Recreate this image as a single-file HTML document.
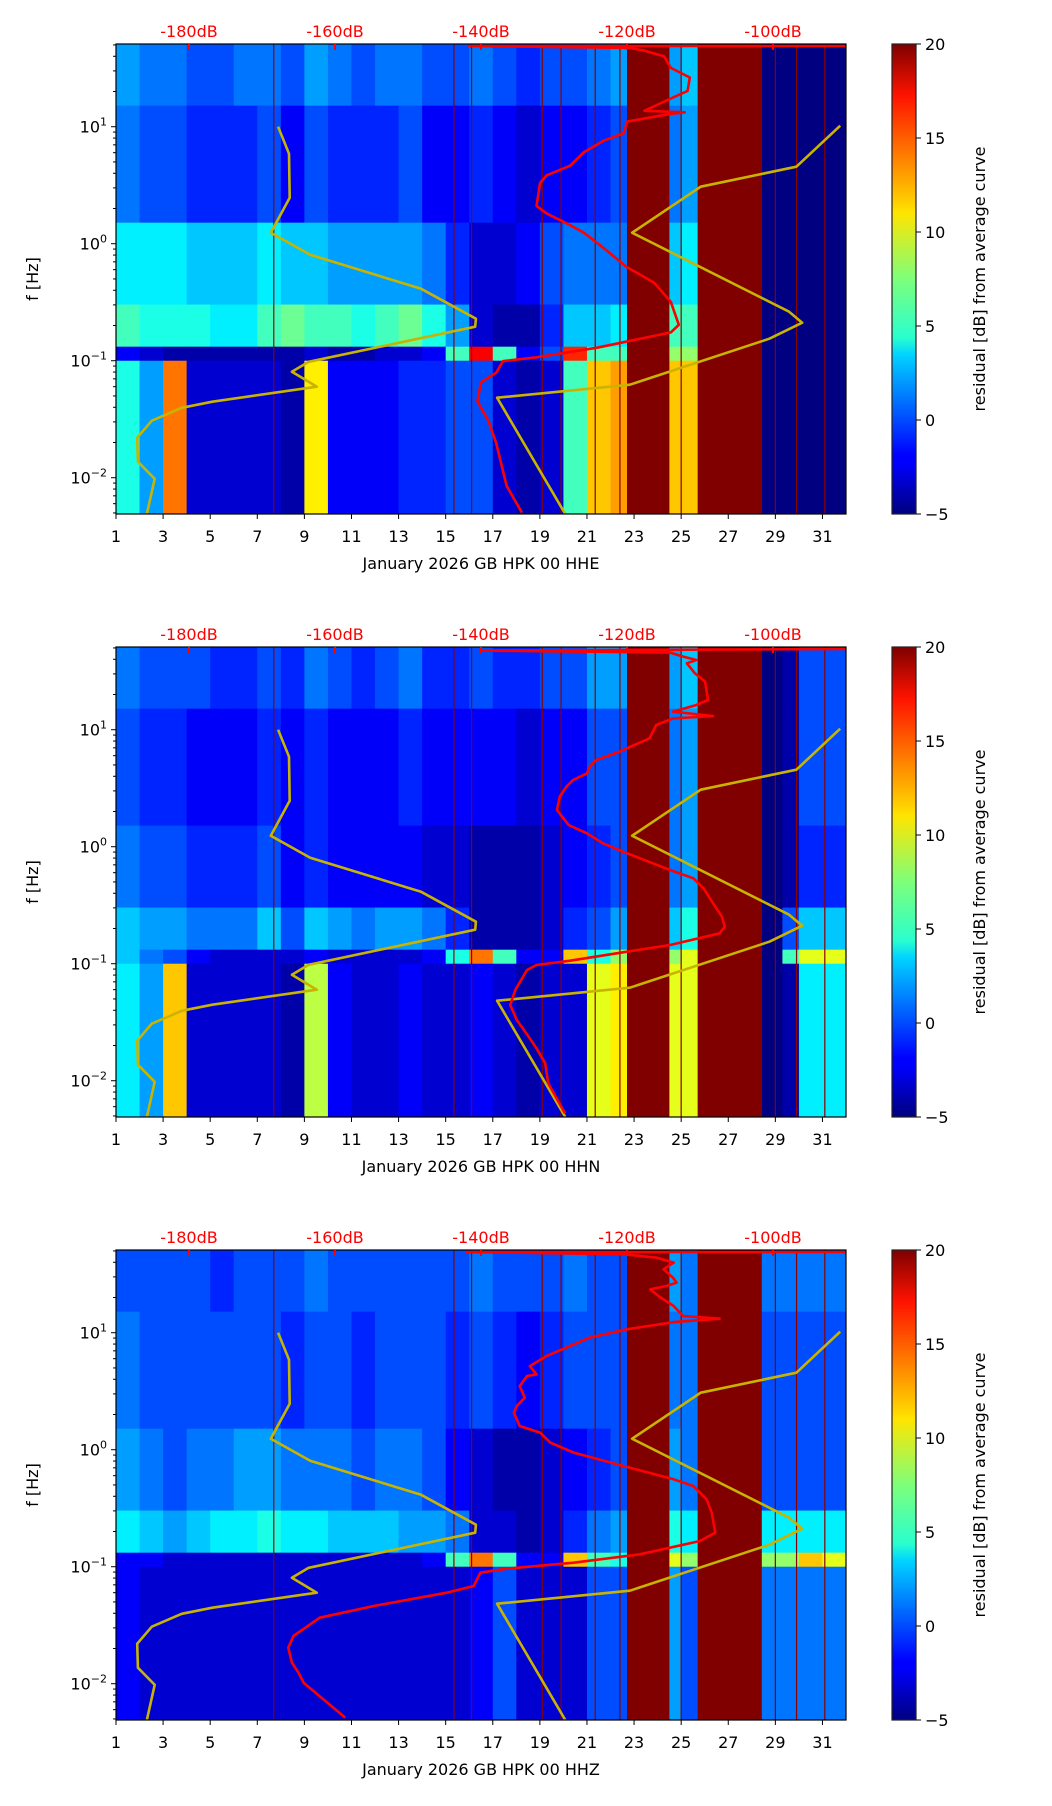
<!DOCTYPE html>
<html><head><meta charset="utf-8">
<style>
html,body{margin:0;padding:0;background:#fff;}
svg{display:block;font-family:"DejaVu Sans","Liberation Sans",sans-serif;}
</style></head>
<body>
<svg id="chart" width="1052" height="1806" viewBox="0 0 1052 1806" xmlns="http://www.w3.org/2000/svg">
<defs>
<linearGradient id="jetgrad" x1="0" y1="1" x2="0" y2="0">
<stop offset="0" stop-color="#00007f"/><stop offset="0.11" stop-color="#0000ff"/>
<stop offset="0.125" stop-color="#0000ff"/><stop offset="0.34" stop-color="#00d4ff"/>
<stop offset="0.375" stop-color="#29ffce"/><stop offset="0.5" stop-color="#7dff7a"/>
<stop offset="0.64" stop-color="#ffe500"/><stop offset="0.66" stop-color="#ffd200"/>
<stop offset="0.89" stop-color="#ff1300"/><stop offset="1" stop-color="#7f0000"/>
</linearGradient>
</defs>
</svg>
<script>
// ---- data ----
const days = [1,3,5,7,9,11,13,15,17,19,21,23,25,27,29,31];
const dbTicks = [-180,-160,-140,-120,-100];
const cbTicks = [-5,0,5,10,15,20];
const bandEdges = [1.707,1.18,0.18,-0.52,-0.88,-1.0,-2.31];
const channels = ["HHE","HHN","HHZ"];

const p1B0=[2,1,1,0,0,1,1,0,2,1,0,1,1,0,0,1,0,-1,0,0,1,2,20,2,3,20,20,20,-5,-5,-5];
const p1B1=[1,0,0,-1,-1,-1,0,-2,0,-1,-1,-1,0,-2,-2,-1,-2,-3,-2,-2,-1,0,20,1,2,20,20,20,-5,-5,-5];
const p1B2=[4,4,4,3,3,3,4,3,3,2,2,2,2,1,-1,-3,-3,-2,0,1,1,1,20,3,4,20,20,20,-5,-5,-5];
const p1B3=[6,5,5,5,4,4,6,7,6,6,5,6,7,5,2,-3,-4,-4,-1,3,3,4,20,6,6,20,20,20,-5,-5,-5];
const p1B4=[-2,-3,-4,-4,-4,-4,-4,-4,-3,-4,-4,-3,-3,-2,6,17,6,-2,0,16,6,6,20,8,8,20,20,20,-5,-5,-5];
const p1B5=[5,2,14,-3,-3,-3,-3,-4,11,-2,-2,-2,-1,-1,0,0,-3,-4,-3,6,12,13,20,12,12,20,20,20,-5,-5,-5];

const p2B0=[1,0,0,0,-1,-1,0,-1,1,0,-1,0,1,-1,-1,0,-1,-1,0,0,2,2,20,2,3,20,20,-4,-4,0,0];
const p2B1=[0,-1,-1,-2,-2,-2,-1,-2,-1,-2,-2,-2,-1,-2,-2,-2,-2,-3,-2,-2,0,0,20,1,2,20,20,-4,-4,0,0];
const p2B2=[1,0,0,-1,-1,-1,0,-2,-1,-2,-2,-2,-2,-3,-3,-4,-4,-4,-3,-2,-1,0,20,1,2,20,20,-4,-4,-1,-1];
const p2B3=[3,2,2,1,1,1,3,0,3,2,1,2,2,1,-1,-4,-4,-4,-3,-1,0,2,20,3,5,20,20,-4,0,3,3];
const p2B4=[3,1,0,-2,-3,-3,-3,-3,-2,-3,-3,-3,-3,-2,5,14,6,-2,-2,12,5,8,20,8,10,20,20,-4,6,10,10];
const p2B5=[4,2,12,-3,-3,-3,-3,-4,9,-2,-3,-3,-2,-3,-3,-2,-3,-4,-3,-3,10,11,20,10,10,20,20,-4,-4,4,4];

const p3B0=[0,0,0,0,-1,0,0,0,1,0,0,0,0,0,0,1,0,0,0,1,0,0,20,2,1,20,20,1,1,1,1];
const p3B1=[1,0,0,0,0,0,0,-1,0,0,-1,0,0,0,-1,0,-1,-2,-1,0,0,0,20,1,1,20,20,0,0,0,0];
const p3B2=[2,1,0,1,1,2,2,1,1,1,0,1,1,0,-2,-3,-4,-4,-3,-2,-1,0,20,2,1,20,20,0,0,0,0];
const p3B3=[4,3,2,3,4,4,5,4,4,3,3,3,2,2,1,-3,-3,-4,-3,-1,1,2,20,5,4,20,20,4,4,4,4];
const p3B4=[-2,-2,-3,-3,-3,-3,-3,-3,-3,-3,-3,-3,-3,-2,6,14,6,-2,-2,12,6,5,20,10,8,20,20,8,8,12,10];
const p3B5=[-2,-3,-3,-3,-3,-3,-3,-3,-3,-3,-3,-3,-3,-3,-3,-2,0,-3,-3,-3,0,0,20,2,0,20,20,1,1,1,1];

const satStart=[22.7,25.7];
const satEnd=[24.5,28.4];
const deadStart=[28.4,28.4,null];
const deadEnd=[32,29.3,null];
const gapLines=[7.7,15.35,16.1,19.1,19.9,21.35,22.4,25.0,28.4,29.0,29.9,31.1];

const nlnmDB=[-185.8,-184.7,-187,-187.1,-185.1,-181,-176.8,-162.5,-165.9,-163.6,-140.8,-140.7,-148.2,-163.4,-168.8,-166.2,-166.3,-167.8];
const nlnmLogF=[-2.316,-2.009,-1.863,-1.658,-1.513,-1.402,-1.35,-1.222,-1.094,-1.009,-0.709,-0.641,-0.385,-0.094,0.094,0.393,0.769,1.0];
const nhnmDB=[-90.8,-96.8,-109.9,-119.3,-97.8,-96,-100.5,-119.6,-137.8,-128.4];
const nhnmLogF=[1.009,0.658,0.487,0.094,-0.581,-0.675,-0.812,-1.205,-1.316,-2.316];

const red1DB=[-134.4,-136.5,-137.9,-139.0,-140.5,-140.0,-137.9,-137.0,-132.4,-124.1,-114.0,-112.9,-114.0,-116.3,-120.0,-123.2,-125.9,-127.8,-131.0,-132.4,-131.9,-131.0,-127.8,-125.9,-123.2,-120.4,-120.0,-114.0,-112.1,-117.6,-114.0,-111.7,-111.4,-114.0,-114.9,-117.6,-119.5,-141.6,-90];
const red1LogF=[-2.298,-2.069,-1.708,-1.512,-1.348,-1.184,-1.102,-1.004,-0.971,-0.889,-0.758,-0.693,-0.496,-0.332,-0.201,-0.037,0.094,0.159,0.258,0.323,0.52,0.585,0.667,0.782,0.88,0.946,1.044,1.11,1.123,1.136,1.241,1.306,1.421,1.503,1.601,1.65,1.673,1.69,1.69];
const red2DB=[-128.5,-130.8,-131.2,-132.4,-133.8,-135.1,-136.0,-135.3,-133.7,-132.4,-127.8,-120.0,-114.1,-107.3,-106.6,-107.0,-108.2,-109.5,-110.9,-114.1,-120.0,-123.3,-125.5,-128.0,-129.6,-129.2,-128.3,-127.4,-125.5,-125.1,-124.2,-121.0,-116.9,-116.0,-113.7,-108.2,-113.7,-110.5,-108.9,-109.3,-110.7,-111.8,-110.5,-112.3,-114.1,-139.9,-90];
const red2LogF=[-2.279,-2.022,-1.851,-1.723,-1.595,-1.481,-1.353,-1.224,-1.054,-1.011,-0.974,-0.897,-0.84,-0.74,-0.683,-0.598,-0.484,-0.356,-0.27,-0.199,-0.056,0.029,0.115,0.186,0.314,0.428,0.513,0.57,0.627,0.684,0.741,0.813,0.927,1.04,1.097,1.117,1.154,1.211,1.254,1.411,1.482,1.568,1.596,1.625,1.659,1.676,1.69];
const red3DB=[-158.6,-164.3,-165.0,-165.9,-166.4,-165.7,-162.1,-154.7,-144.7,-141.0,-140.1,-136.5,-127.3,-118.2,-110.0,-107.9,-108.4,-109.1,-110.9,-113.6,-120.5,-127.3,-130.5,-131.9,-134.7,-135.5,-135.1,-134.0,-134.7,-133.7,-132.4,-133.3,-131.0,-125.1,-120.0,-113.6,-107.3,-112.3,-113.6,-115.7,-116.8,-114.6,-113.2,-113.7,-115.0,-113.6,-115.9,-120.5,-142,-90];
const red3LogF=[-2.29,-1.991,-1.906,-1.82,-1.692,-1.592,-1.436,-1.336,-1.222,-1.165,-1.051,-1.017,-0.966,-0.894,-0.78,-0.709,-0.538,-0.424,-0.31,-0.253,-0.139,-0.025,0.06,0.146,0.203,0.316,0.374,0.445,0.544,0.63,0.644,0.715,0.801,0.958,1.029,1.091,1.12,1.143,1.228,1.314,1.371,1.399,1.428,1.47,1.542,1.599,1.641,1.67,1.69,1.69];

// ---- layout ----
const NS="http://www.w3.org/2000/svg";
const svg=document.getElementById('chart');
const L=116,R=846,H=470,TOPS=[44,647,1250];
const LOGTOP=1.707,DEC=117;
const xDay=d=>L+(d-1)*(R-L)/31;
const xDB=db=>L+(db+190)*(R-L)/100;
const yF=(lf,T)=>T+(LOGTOP-lf)*DEC;
function jet(v){
  let t=Math.max(0,Math.min(1,(v+5)/25));
  const c=(x)=>Math.max(0,Math.min(1,x));
  let r=c(Math.min(4*t-1.5,-4*t+4.5)),g=c(Math.min(4*t-0.5,-4*t+3.5)),b=c(Math.min(4*t+0.5,-4*t+2.5));
  return `rgb(${Math.round(r*255)},${Math.round(g*255)},${Math.round(b*255)})`;
}
function mk(tag,attrs,parent){const e=document.createElementNS(NS,tag);for(const k in attrs)e.setAttribute(k,attrs[k]);(parent||svg).appendChild(e);return e;}

const bands=[[p1B0,p1B1,p1B2,p1B3,p1B4,p1B5],[p2B0,p2B1,p2B2,p2B3,p2B4,p2B5],[p3B0,p3B1,p3B2,p3B3,p3B4,p3B5]];
const reds=[[red1DB,red1LogF],[red2DB,red2LogF],[red3DB,red3LogF]];

TOPS.forEach((T,pi)=>{
  const g=mk('g',{});
  
  
  const cp=mk('clipPath',{id:'clip'+pi},g);
  mk('rect',{x:L,y:T,width:R-L,height:H},cp);
  const hm=mk('g',{'clip-path':`url(#clip${pi})`},g);
  
  
  bands[pi].forEach((arr,bi)=>{
    arr.forEach((v,di)=>{
      const y0=yF(bandEdges[bi],T),y1=yF(bandEdges[bi+1],T);
      const x0=xDay(di+1),x1=xDay(di+2);
      const r=mk('rect',{x:x0,y:y0,width:x1-x0+0.5,height:y1-y0+0.5,fill:jet(v)},hm);
      
      
    });
  });
  satStart.forEach((s,i)=>{
    const r=mk('rect',{x:xDay(s),y:T,width:xDay(satEnd[i])-xDay(s),height:H,fill:jet(20)},hm);
    
    
  });
  if(deadStart[pi]!==null){
    const r=mk('rect',{x:xDay(deadStart[pi]),y:T,width:xDay(deadEnd[pi])-xDay(deadStart[pi]),height:H,fill:jet(-5)},hm);
    
    
  }
  gapLines.forEach(d=>{
    const l=mk('line',{x1:xDay(d),x2:xDay(d),y1:T,y2:T+H,stroke:'#8b0000','stroke-width':1.2},hm);
    
    
  });
  const curve=(dbs,lfs,col,w,name)=>{
    const pts=dbs.map((d,i)=>xDB(d).toFixed(1)+','+yF(lfs[i],T).toFixed(1)).join(' ');
    const pl=mk('polyline',{points:pts,fill:'none',stroke:col,'stroke-width':w,'stroke-linejoin':'round'},hm);
    
    
  };
  curve(nlnmDB,nlnmLogF,'#c8b400',2.6,'nlnm-curve');
  curve(nhnmDB,nhnmLogF,'#c8b400',2.6,'nhnm-curve');
  curve(reds[pi][0],reds[pi][1],'#ff0000',2.6,'median-psd-curve');
  const fr=mk('rect',{x:L,y:T,width:R-L,height:H,fill:'none',stroke:'#000','stroke-width':1.2},g);
  
  
  days.forEach(d=>{
    const x=xDay(d);
    mk('line',{x1:x,x2:x,y1:T+H,y2:T+H+5,stroke:'#000','stroke-width':1},g);
    const t=mk('text',{x:x,y:T+H+28,'text-anchor':'middle','font-size':16,fill:'#000'},g);
    t.textContent=d;
    
    
  });
  const xl=mk('text',{x:(L+R)/2,y:T+H+55,'text-anchor':'middle','font-size':16,fill:'#000'},g);
  xl.textContent='January 2026 GB HPK 00 '+channels[pi];
  
  
  dbTicks.forEach(db=>{
    const x=xDB(db);
    mk('line',{x1:x,x2:x,y1:T,y2:T+6,stroke:'#ff0000','stroke-width':2},g);
    const t=mk('text',{x:x,y:T-7,'text-anchor':'middle','font-size':16,fill:'#ff0000'},g);
    t.textContent=db+'dB';
    
    
  });
  for(let e=-3;e<=1;e++){
    for(let m=1;m<10;m++){
      const lf=e+Math.log10(m);
      if(lf<-2.31||lf>LOGTOP)continue;
      const y=yF(lf,T);
      mk('line',{x1:L,x2:L-(m===1?5:3),y1:y,y2:y,stroke:'#000','stroke-width':1},g);
      if(m===1){
        const t=mk('text',{x:L-9,y:y+6,'text-anchor':'end','font-size':16,fill:'#000'},g);
        t.innerHTML='10<tspan dy="-7" font-size="11">'+(e<0?'\u2212'+(-e):e)+'</tspan>';
        
        
      }
    }
  }
  const yl=mk('text',{x:0,y:0,'text-anchor':'middle','font-size':16,fill:'#000',transform:`translate(38,${T+H/2}) rotate(-90)`},g);
  yl.textContent='f [Hz]';
  
  
  const cb=mk('rect',{x:892,y:T,width:24,height:H,fill:'url(#jetgrad)',stroke:'#222','stroke-width':1.2},g);
  
  
  cbTicks.forEach(v=>{
    const y=T+H-(v+5)/25*H;
    mk('line',{x1:916,x2:921,y1:y,y2:y,stroke:'#000','stroke-width':1},g);
    const t=mk('text',{x:925,y:y+6,'font-size':16,fill:'#000'},g);
    t.textContent=v<0?'\u2212'+(-v):v;
    
    
  });
  const cl=mk('text',{x:0,y:0,'text-anchor':'middle','font-size':16,fill:'#000',transform:`translate(985,${T+H/2}) rotate(-90)`},g);
  cl.textContent='residual [dB] from average curve';
  
  
});
</script>
</body></html>
